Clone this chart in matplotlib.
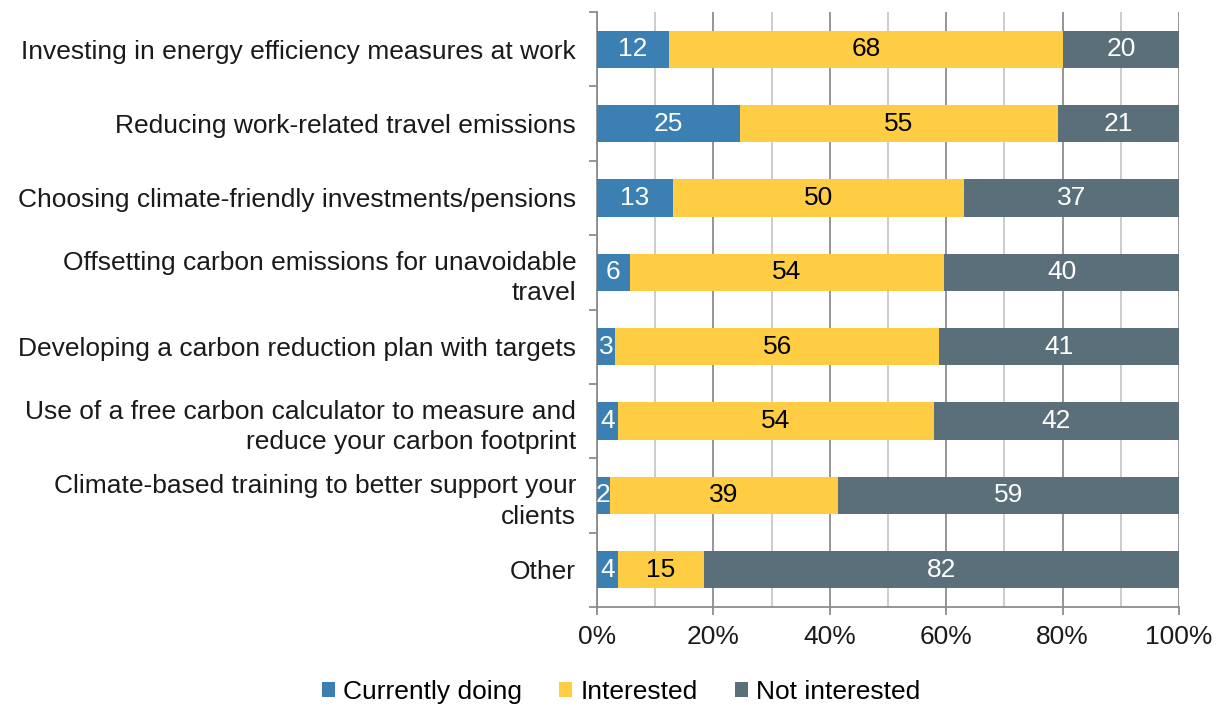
import matplotlib.pyplot as plt
import numpy as np

plt.rcParams['font.family'] = ['Liberation Sans', 'DejaVu Sans']

categories = [
    'Investing in energy efficiency measures at work',
    'Reducing work-related travel emissions',
    'Choosing climate-friendly investments/pensions',
    'Offsetting carbon emissions for unavoidable\ntravel',
    'Developing a carbon reduction plan with targets',
    'Use of a free carbon calculator to measure and\nreduce your carbon footprint',
    'Climate-based training to better support your\nclients',
    'Other',
]
currently = [12.4, 24.6, 13.0, 5.6, 3.1, 3.6, 2.2, 3.6]
interested = [67.7, 54.6, 50.0, 54.1, 55.7, 54.3, 39.2, 14.7]
not_interested = [19.9, 20.8, 37.0, 40.3, 41.2, 42.1, 58.6, 81.8]

series = [
    ('Currently doing', currently, '#3b7fb3', 'white'),
    ('Interested', interested, '#ffcd44', 'black'),
    ('Not interested', not_interested, '#5b6f7b', 'white'),
]

FS = 19
fig = plt.figure(figsize=(12.23, 7.09), dpi=100)
ax = fig.add_axes([597 / 1223, 1 - 607 / 709, 582 / 1223, 595 / 709])

y = np.arange(len(categories))
left = np.zeros(len(categories))
for name, vals, color, tcol in series:
    vals = np.array(vals)
    bars = ax.barh(y, vals, left=left, height=0.5, color=color, label=name, zorder=3)
    for b, v in zip(bars, vals):
        ax.text(b.get_x() + b.get_width() / 2, b.get_y() + b.get_height() / 2,
                f'{v:.0f}', ha='center', va='center', color=tcol, fontsize=FS, zorder=4)
    left += vals

ax.set_xlim(0, 100)
ax.set_ylim(len(categories) - 0.5, -0.5)
ax.set_xticks(np.arange(0, 101, 20))
ax.set_xticklabels([f'{t}%' for t in range(0, 101, 20)], fontsize=FS)
ax.set_xticks(np.arange(10, 100, 20), minor=True)
ax.grid(axis='x', which='major', color='#8c8c8c', lw=1.3, zorder=0)
ax.grid(axis='x', which='minor', color='#c8c8c8', lw=1.3, zorder=0)
ax.tick_params(axis='x', which='major', length=6, width=1.3, color='#8c8c8c', pad=7, labelcolor='#1a1a1a')
ax.tick_params(axis='x', which='minor', length=0)

ax.set_yticks(y)
ax.set_yticklabels(categories, fontsize=FS, color='#1a1a1a', linespacing=1.35)
ax.tick_params(axis='y', which='major', length=0, pad=15)
ax.set_yticks(np.arange(-0.5, len(categories), 1), minor=True)
ax.tick_params(axis='y', which='minor', length=6, width=1.3, color='#8c8c8c')

for s in ['top', 'right']:
    ax.spines[s].set_visible(False)
for s in ['left', 'bottom']:
    ax.spines[s].set_color('#8c8c8c')
    ax.spines[s].set_linewidth(1.3)

fig.legend(loc='center', bbox_to_anchor=(621 / 1223, 1 - 692 / 709), ncol=3, frameon=False,
           fontsize=FS, handlelength=0.5, handleheight=0.5, handletextpad=0.3, columnspacing=1.4)

fig.savefig('out.png', dpi=100)
